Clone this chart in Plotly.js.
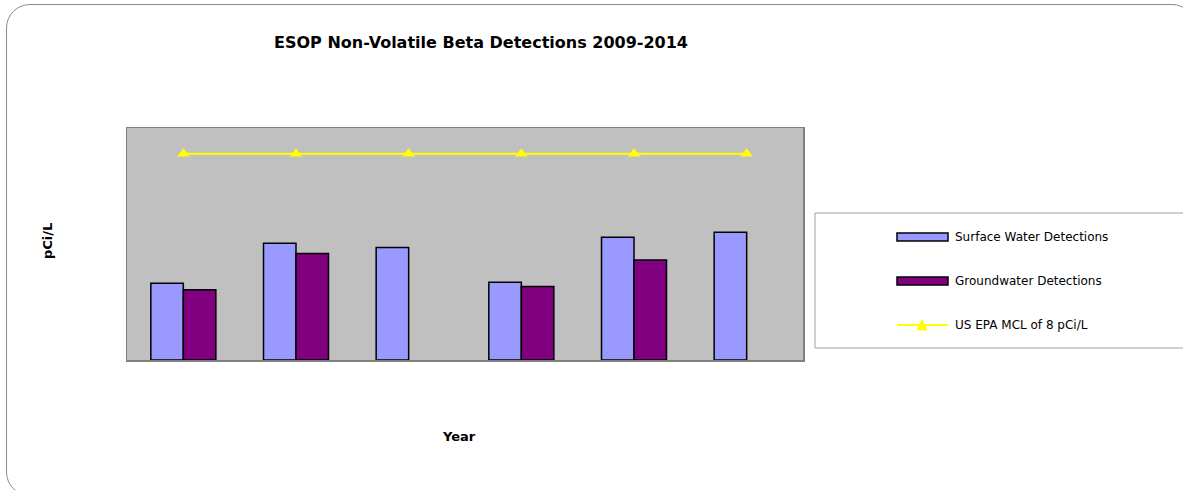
<!DOCTYPE html>
<html>
<head>
<meta charset="utf-8">
<script src="https://cdn.plot.ly/plotly-3.0.1.min.js"></script>
<style>
  html, body { margin: 0; padding: 0; background: #ffffff; overflow: hidden; }
  #frame { position: absolute; left: 6px; top: 4px; width: 1190px; height: 492px;
           border: 1px solid #8c8c8c; border-radius: 24px; box-sizing: border-box; }
  #chart { position: absolute; left: 0; top: 0; width: 1183px; height: 490px; }
</style>
</head>
<body>
<div id="frame"></div>
<div id="chart"></div>
<script>
// ---- data ----
const years = ["2009", "2010", "2011", "2012", "2013", "2014"];
const surfaceWater = [2.98, 4.53, 4.36, 3.02, 4.76, 4.96];
const groundwater = [2.73, 4.13, null, 2.85, 3.88, null];
const mcl = [8, 8, 8, 8, 8, 8];
const seriesNames = ["Surface Water Detections", "Groundwater Detections", "US EPA MCL of 8 pCi/L"];
const titleText = "ESOP Non-Volatile Beta Detections 2009-2014";
const xTitle = "Year";
const yTitle = "pCi/L";

// ---- geometry helpers (pixel -> paper) ----
const W = 1183, H = 490;
const L = 127, R = 803, T = 128, B = 360;
const px = x => (x - L) / (R - L);
const py = y => (B - y) / (B - T);

const FONT = "DejaVu Sans, Liberation Sans, Arial, sans-serif";
const colSurface = "#9999FF";
const colGround = "#800080";
const colMcl = "#FFFF00";

const traces = [
  { type: "bar", x: years, y: surfaceWater, name: seriesNames[0],
    marker: { color: colSurface, line: { color: "#000000", width: 1.5 } }, showlegend: false },
  { type: "bar", x: years, y: groundwater, name: seriesNames[1],
    marker: { color: colGround, line: { color: "#000000", width: 1.5 } }, showlegend: false },
  { type: "scatter", mode: "lines+markers", x: years, y: mcl, name: seriesNames[2],
    line: { color: colMcl, width: 2 },
    marker: { symbol: "triangle-up", size: 11, color: colMcl }, showlegend: false }
];

// ---- manual legend (box + swatches + labels) ----
const shapes = [
  { type: "rect", xref: "paper", yref: "paper",
    x0: px(815), x1: px(1195), y0: py(348), y1: py(213),
    line: { color: "#a0a0a0", width: 1 }, fillcolor: "#ffffff", layer: "below" },
  { type: "rect", xref: "paper", yref: "paper",
    x0: px(897), x1: px(948), y0: py(241), y1: py(233),
    line: { color: "#000000", width: 1.5 }, fillcolor: colSurface },
  { type: "rect", xref: "paper", yref: "paper",
    x0: px(897), x1: px(948), y0: py(285), y1: py(277),
    line: { color: "#000000", width: 1.5 }, fillcolor: colGround },
  { type: "line", xref: "paper", yref: "paper",
    x0: px(897), x1: px(948), y0: py(325), y1: py(325),
    line: { color: colMcl, width: 2 } },
  { type: "path", xref: "paper", yref: "paper",
    path: `M ${px(917)} ${py(330)} L ${px(927)} ${py(330)} L ${px(922)} ${py(320)} Z`,
    line: { color: colMcl, width: 1 }, fillcolor: colMcl }
];

const legendRows = [237, 281, 325];
const annotations = seriesNames.map((n, i) => ({
  xref: "paper", yref: "paper", x: px(953), y: py(legendRows[i]),
  xanchor: "left", yanchor: "middle", showarrow: false, text: n,
  font: { family: FONT, size: 12, color: "#000000" }
}));
annotations.push(
  { xref: "paper", yref: "paper", x: px(459), y: py(436), xanchor: "center", yanchor: "middle",
    showarrow: false, text: "<b>" + xTitle + "</b>",
    font: { family: FONT, size: 13, color: "#000000" } },
  { xref: "paper", yref: "paper", x: px(47), y: py(241), xanchor: "center", yanchor: "middle",
    showarrow: false, textangle: -90, text: "<b>" + yTitle + "</b>",
    font: { family: FONT, size: 13, color: "#000000" } }
);

const layout = {
  width: W, height: H,
  margin: { l: L, r: W - R, t: T, b: H - B, pad: 0 },
  paper_bgcolor: "rgba(0,0,0,0)",
  plot_bgcolor: "#C0C0C0",
  title: { text: "<b>" + titleText + "</b>", x: 481 / W, xanchor: "center",
           y: 1 - 42 / H, yanchor: "middle",
           font: { family: FONT, size: 16, color: "#000000" } },
  barmode: "group",
  bargap: 0.423,
  bargroupgap: 0,
  showlegend: false,
  xaxis: { type: "category", range: [-0.5, 5.5], showticklabels: false, ticks: "",
           showgrid: false, zeroline: false, showline: true, mirror: true,
           linecolor: "#808080", linewidth: 1.5, fixedrange: true },
  yaxis: { range: [0, 9], showticklabels: false, ticks: "", showgrid: false, zeroline: false,
           showline: true, mirror: true, linecolor: "#808080", linewidth: 1.5, fixedrange: true },
  shapes: shapes,
  annotations: annotations
};

Plotly.newPlot("chart", traces, layout, { staticPlot: true, displayModeBar: false });
</script>
</body>
</html>
